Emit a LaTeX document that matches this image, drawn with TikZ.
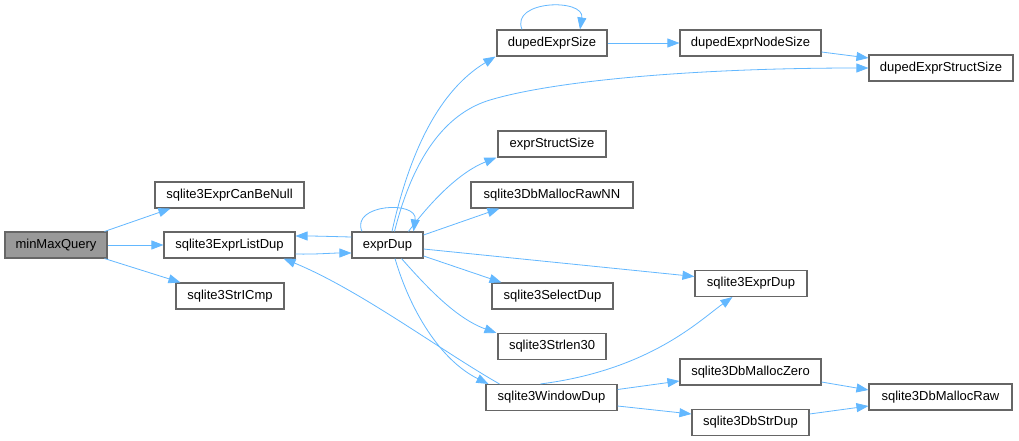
\documentclass[tikz,border=0pt]{standalone}
\usepackage{fontspec}
\setmainfont{Liberation Sans}
\usetikzlibrary{arrows.meta}
\definecolor{edgeblue}{HTML}{63B8FF}
\definecolor{boxgray}{HTML}{666666}
\definecolor{rootfill}{HTML}{999999}
\tikzset{
  fn/.style={draw=boxgray, line width=1.1pt, fill=white, rectangle, inner sep=0pt,
    minimum height=26pt, font=\fontsize{13}{15}\selectfont, text=black},
  root/.style={fn, fill=rootfill},
  e/.style={draw=edgeblue, line width=0.8pt, -{Triangle[length=12pt,width=9pt]}}
}
\begin{document}
\begin{tikzpicture}[x=1pt,y=-1pt]
\useasboundingbox[fill=white] (0,0) rectangle (1019,441);
% nodes
\node[root, minimum width=102pt] (minMax) at (56,245) {minMaxQuery};
\node[fn, minimum width=149pt] (canBeNull) at (229.5,195) {sqlite3ExprCanBeNull};
\node[fn, minimum width=131pt] (listDup) at (229.5,245) {sqlite3ExprListDup};
\node[fn, minimum width=108pt] (strICmp) at (230,296) {sqlite3StrICmp};
\node[fn, minimum width=71pt] (exprDup) at (387.5,245) {exprDup};
\node[fn, minimum width=110pt] (dupedSize) at (552,43) {dupedExprSize};
\node[fn, minimum width=108pt] (exprStruct) at (552,144) {exprStructSize};
\node[fn, minimum width=162pt] (rawNN) at (552,195) {sqlite3DbMallocRawNN};
\node[fn, minimum width=121pt] (selectDup) at (552.5,296) {sqlite3SelectDup};
\node[fn, minimum width=108pt] (strlen) at (552,346.5) {sqlite3Strlen30};
\node[fn, minimum width=131pt] (windowDup) at (551.5,397.5) {sqlite3WindowDup};
\node[fn, minimum width=141pt] (nodeSize) at (750.5,43) {dupedExprNodeSize};
\node[fn, minimum width=112pt] (sqlExprDup) at (751,283.5) {sqlite3ExprDup};
\node[fn, minimum width=141pt] (mallocZero) at (750.5,372) {sqlite3DbMallocZero};
\node[fn, minimum width=117pt] (strDup) at (750.5,422.5) {sqlite3DbStrDup};
\node[fn, minimum width=144pt] (structSize) at (941,68) {dupedExprStructSize};
\node[fn, minimum width=143pt] (mallocRaw) at (940.5,397) {sqlite3DbMallocRaw};
% edges
\draw[e] ([xshift=-3pt]minMax.north east) -- ([xshift=16pt]canBeNull.south west);
\draw[e] (minMax.east) -- (listDup.west);
\draw[e] ([xshift=-3pt]minMax.south east) -- ([xshift=5pt]strICmp.north west);
\draw[e] ([yshift=-9pt]listDup.east) .. controls +(20,0.5) and +(-20,0) .. ([yshift=-8pt]exprDup.west);
\draw[e] ([yshift=8pt]exprDup.west) .. controls +(-20,-0.5) and +(20,0) .. ([yshift=9pt]listDup.east);
\draw[e] ([xshift=-25.5pt]exprDup.north) .. controls (350,204) and (418,200) .. ([xshift=26pt]exprDup.north);
\draw[e] ([xshift=4.5pt]exprDup.north) .. controls (410,150) and (440,90) .. ([xshift=-1pt]dupedSize.south west);
\draw[e] ([xshift=7pt]exprDup.north) .. controls (415,150) and (450,112) .. (490,100) .. controls (557,80) and (700,68) .. (structSize.west);
\draw[e] ([xshift=21pt]exprDup.north) .. controls (432,200) and (460,172) .. ([xshift=-1pt]exprStruct.south west);
\draw[e] ([yshift=10pt]exprDup.east) -- ([xshift=29pt]rawNN.south west);
\draw[e] ([yshift=-4pt]exprDup.east) -- ([yshift=7pt]sqlExprDup.west);
\draw[e] ([yshift=-11pt]exprDup.east) -- ([xshift=10pt]selectDup.north west);
\draw[e] ([xshift=14pt]exprDup.south) .. controls (425,285) and (455,318) .. ([xshift=-1pt]strlen.north west);
\draw[e] ([xshift=7.5pt]exprDup.south) .. controls (410,310) and (440,360) .. ([xshift=3pt]windowDup.north west);
\draw[e] ([xshift=14pt]windowDup.north west) .. controls (440,350) and (360,290) .. ([xshift=-12pt]listDup.south east);
\draw[e] ([xshift=-30pt]dupedSize.north) .. controls (510,0) and (585,-2) .. ([xshift=28pt]dupedSize.north);
\draw[e] (dupedSize.east) -- (nodeSize.west);
\draw[e] ([yshift=-9pt]nodeSize.east) -- ([yshift=10pt]structSize.west);
\draw[e] ([xshift=55pt]windowDup.north west) .. controls (650,370) and (700,320) .. ([xshift=38pt]sqlExprDup.south west);
\draw[e] ([yshift=8pt]windowDup.east) -- ([yshift=-9pt]mallocZero.west);
\draw[e] ([yshift=-8.5pt]windowDup.east) -- ([yshift=8.5pt]strDup.west);
\draw[e] ([yshift=-10pt]mallocZero.east) -- ([yshift=7pt]mallocRaw.west);
\draw[e] ([yshift=8.5pt]strDup.east) -- ([yshift=-9pt]mallocRaw.west);
\end{tikzpicture}
\end{document}
